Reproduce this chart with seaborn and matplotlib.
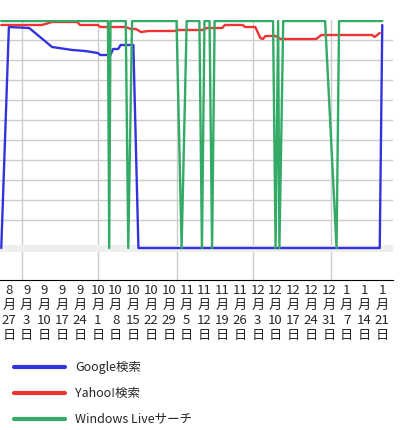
import matplotlib
matplotlib.use("Agg")
import matplotlib.pyplot as plt
import seaborn as sns
import pandas as pd
import numpy as np

# days since 2007-08-24, rank-like position (0 = top, 11.4 = out of range)
google_days = [0, 3, 11, 20, 28, 33, 38, 39, 43, 44, 46, 47, 52, 54, 149, 150]
google_vals = [11.4, 0.35, 0.4, 1.35, 1.5, 1.55, 1.65, 1.75, 1.75, 1.45, 1.45, 1.25, 1.25, 11.4, 11.4, 0.25]
yahoo_days = [0, 16, 20, 30, 31, 38, 39, 49, 51, 53, 55, 58, 68, 70, 79, 81, 87, 88, 95, 96, 100, 102, 103, 104, 108, 110, 124, 126, 146, 147, 149]
yahoo_vals = [0.25, 0.25, 0.1, 0.1, 0.25, 0.25, 0.35, 0.35, 0.45, 0.45, 0.6, 0.55, 0.55, 0.5, 0.5, 0.4, 0.4, 0.25, 0.25, 0.35, 0.35, 0.9, 0.95, 0.8, 0.8, 0.95, 0.95, 0.75, 0.75, 0.85, 0.65]
live_days = [0, 42, 42.5, 43, 49, 50, 51.5, 69, 71, 73, 78, 79, 80, 82, 83, 84, 107, 108, 109, 109.5, 111, 127.5, 132, 133, 150]
live_vals = [0.05, 0.05, 11.4, 0.05, 0.05, 11.4, 0.05, 0.05, 11.4, 0.05, 0.05, 11.4, 0.05, 0.05, 11.4, 0.05, 0.05, 11.4, 0.05, 11.4, 0.05, 0.05, 11.4, 0.05, 0.05]
series_names = ["Google検索", "Yahoo!検索", "Windows Liveサーチ"]
colors = ["#3333dd", "#ee3333", "#33aa66"]

sns.set_style("white")
plt.rcParams['font.family'] = ['Noto Sans CJK JP', 'DejaVu Sans']

base = pd.Timestamp("2007-08-24")
frames = []
for name, d, v in zip(series_names, [google_days, yahoo_days, live_days], [google_vals, yahoo_vals, live_vals]):
    frames.append(pd.DataFrame({"date": base + pd.to_timedelta(d, unit="D"), "val": v, "s": name}))
df = pd.concat(frames)

fig = plt.figure(figsize=(4, 4.3), dpi=100)
ax = fig.add_axes([0, 1 - 280/430, 393/400, 260/430])
start = pd.Timestamp("2007-08-23 12:00")
end = start + pd.Timedelta(days=393/2.54)
ax.set_xlim(start, end)
ax.set_ylim(13, 0)

for y in range(1, 11):
    ax.axhline(y, color="#cccccc", lw=1, zorder=0)
for m in ["2007-09-01", "2007-10-01", "2007-11-01", "2007-12-01", "2008-01-01"]:
    ax.axvline(pd.Timestamp(m), color="#cccccc", lw=1, zorder=0)
ax.axhline(11.4, color="#eeeeee", lw=5, zorder=0)

sns.lineplot(data=df, x="date", y="val", hue="s", palette=colors, sort=False,
             estimator=None, lw=1.7, ax=ax, legend=False)

weeks = pd.date_range("2007-08-27", "2008-01-21", freq="7D")
ax.set_xticks(weeks)
ax.set_xticklabels([f"{d.month}\n月\n{d.day}\n日" for d in weeks], fontsize=9.5, linespacing=1.2)
ax.set_xticks(pd.date_range("2007-08-24", "2008-01-24", freq="D"), minor=True)
ax.tick_params(axis="x", which="minor", direction="in", length=4, width=0.8, color="black")
ax.tick_params(axis="x", which="major", length=0, pad=3)
ax.set_yticks([])
ax.set_xlabel(""); ax.set_ylabel("")
for s in ["top", "left", "right"]:
    ax.spines[s].set_visible(False)
ax.spines["bottom"].set_color("black")

for i, (name, c) in enumerate(zip(series_names, colors)):
    y = 1 - (367 + 26*i)/430
    fig.add_artist(plt.Line2D([14/400, 65/400], [y, y], color=c, lw=3))
    fig.text(75/400, y, name, fontsize=9, va="center", ha="left")

fig.savefig("out.png", dpi=100)
